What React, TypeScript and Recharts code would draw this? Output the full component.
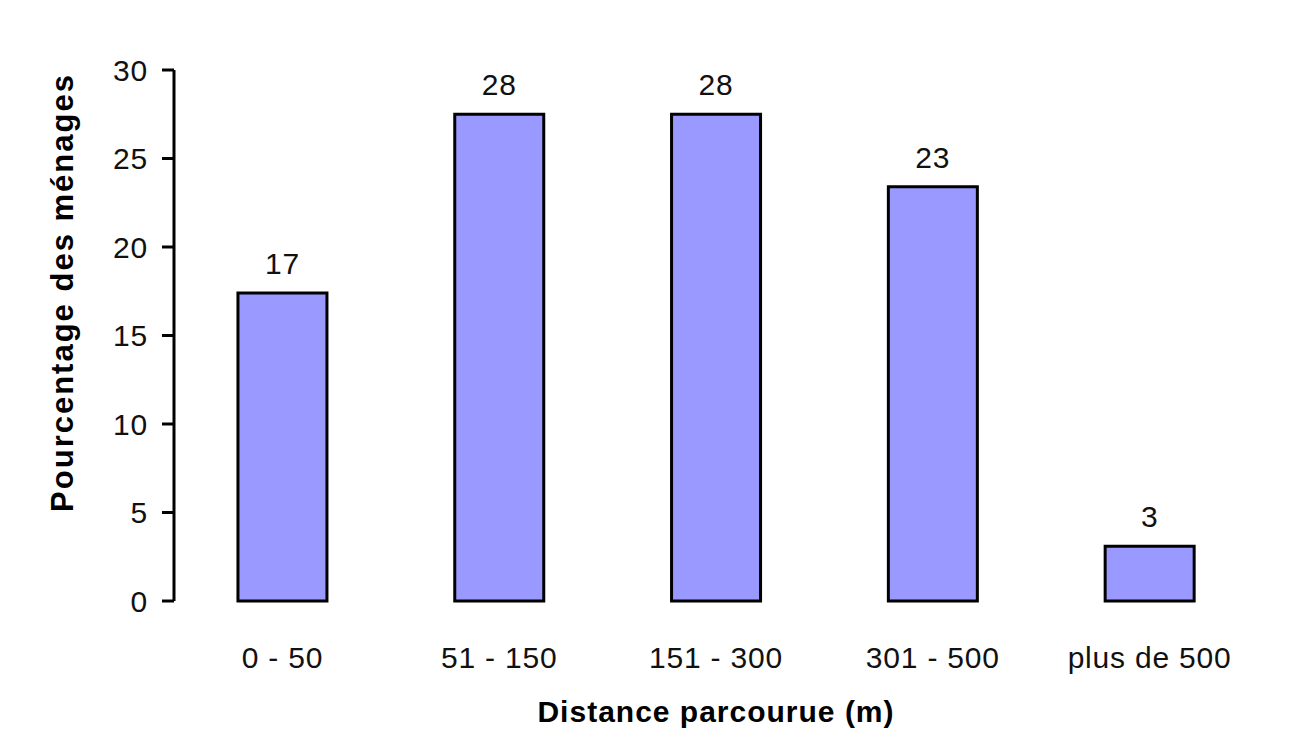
import { BarChart, Bar, XAxis, YAxis, LabelList } from 'recharts';

const RANGES = ['0 - 50', '51 - 150', '151 - 300', '301 - 500', 'plus de 500'];
const PCT = [17.4, 27.5, 27.5, 23.4, 3.1];
const Y_TICKS = [0, 5, 10, 15, 20, 25, 30];
const EDGE_TICKS = [0, 1, 2, 3, 4, 5];

const data = RANGES.map((r, i) => ({ range: r, pct: PCT[i] }));

const FONT = '"Liberation Sans", Arial, sans-serif';
const axisStroke = { stroke: '#000', strokeWidth: 3 };
const tickText = { fontSize: 30, fill: '#111', fontFamily: FONT, letterSpacing: 0.8 };

const YTitle = (props: any) => {
  const vb = props.viewBox || {};
  const cx = vb.x + 62;
  const cy = vb.y + vb.height / 2 - 43;
  return (
    <text
      x={cx}
      y={cy}
      transform={`rotate(-90, ${cx}, ${cy})`}
      textAnchor="middle"
      dominantBaseline="central"
      fontFamily={FONT}
      fontSize={31}
      fontWeight="bold"
      letterSpacing={2}
      fill="#000"
    >
      Pourcentage des ménages
    </text>
  );
};

const XTitle = (props: any) => {
  const vb = props.viewBox || {};
  return (
    <text
      x={vb.x + vb.width / 2}
      y={vb.y + 121}
      textAnchor="middle"
      fontFamily={FONT}
      fontSize={30}
      fontWeight="bold"
      letterSpacing={1}
      fill="#000"
    >
      Distance parcourue (m)
    </text>
  );
};

export default function App() {
  return (
    <div style={{ position: 'absolute', left: 0, top: 0, width: 1294, height: 748, background: '#fff', fontFamily: FONT }}>
      <BarChart
        width={1294}
        height={748}
        data={data}
        margin={{ top: 70, right: 36, bottom: 47, left: 0 }}
        barCategoryGap="29.5%"
      >
        <XAxis
          xAxisId="edges"
          type="number"
          domain={[0, 5]}
          ticks={EDGE_TICKS}
          allowDataOverflow
          height={0}
          tickSize={10}
          tickFormatter={() => ''}
          axisLine={axisStroke}
          tickLine={axisStroke}
        />
        <XAxis
          xAxisId="cat"
          dataKey="range"
          height={100}
          axisLine={false}
          tickLine={false}
          tickSize={0}
          tickMargin={46}
          interval={0}
          tick={tickText}
          label={{ content: XTitle }}
        />
        <YAxis
          width={174}
          domain={[0, 30]}
          ticks={Y_TICKS}
          interval={0}
          tickSize={12}
          tickMargin={14}
          axisLine={axisStroke}
          tickLine={axisStroke}
          tick={tickText}
          label={{ content: YTitle }}
        />
        <Bar
          xAxisId="cat"
          dataKey="pct"
          fill="#9999FF"
          stroke="#000"
          strokeWidth={3}
          isAnimationActive={false}
        >
          <LabelList
            dataKey="pct"
            position="top"
            offset={19}
            formatter={(v: any) => Math.round(Number(v))}
            fontSize={30}
            fill="#111"
            fontFamily={FONT}
            letterSpacing={0.8}
          />
        </Bar>
      </BarChart>
    </div>
  );
}
